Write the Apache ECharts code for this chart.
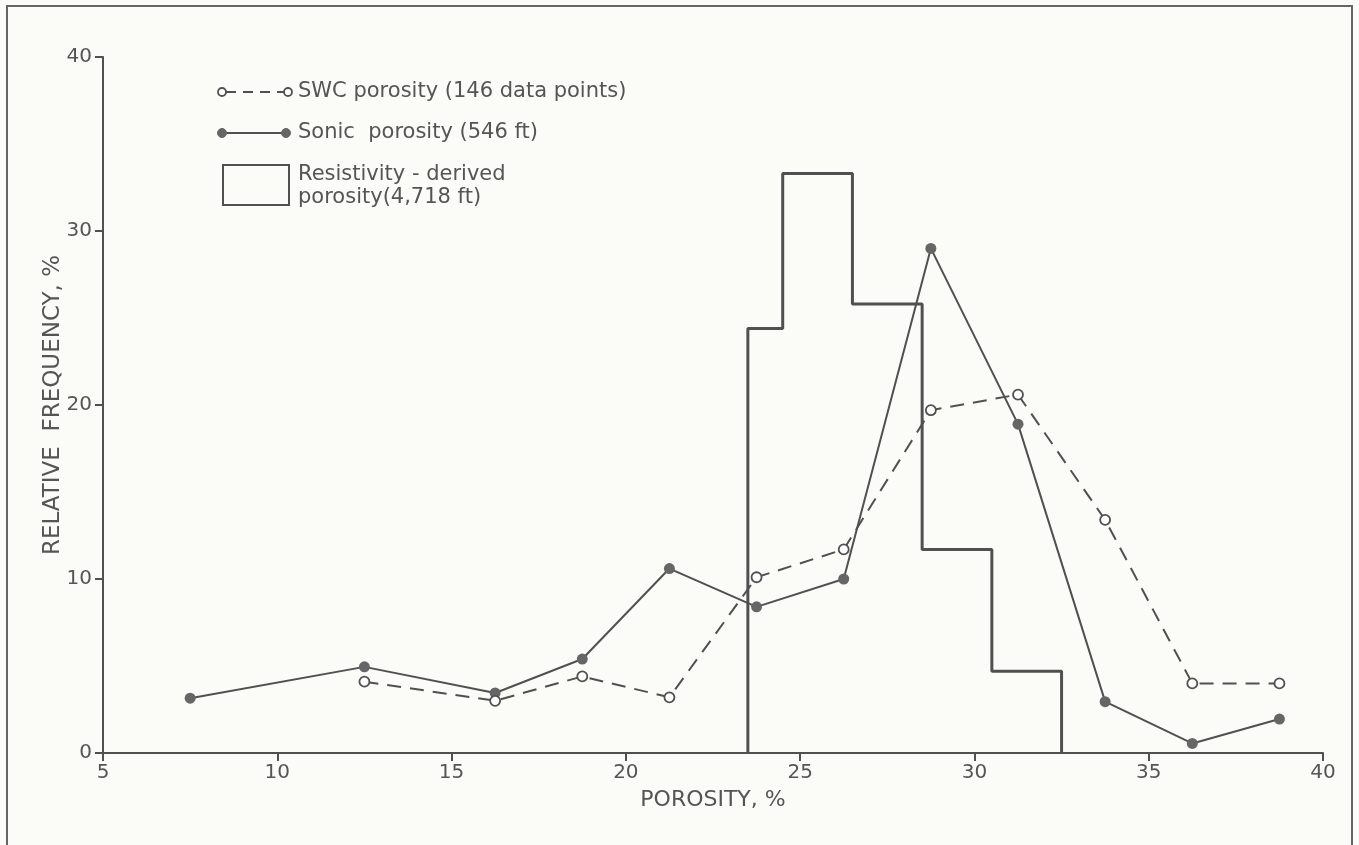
<!DOCTYPE html>
<html>
<head>
<meta charset="utf-8">
<script src="https://cdn.jsdelivr.net/npm/echarts@6/dist/echarts.min.js"></script>
<style>
  html, body { margin: 0; padding: 0; background: #fbfbf7; }
  #chart { width: 1359px; height: 845px; }
</style>
</head>
<body>
<div id="chart"></div>
<script>
// porosity bin centres (%)
const swcPorosity = [12.5, 16.25, 18.75, 21.25, 23.75, 26.25, 28.75, 31.25, 33.75, 36.25, 38.75]
const swcFreq = [4.1, 3.0, 4.4, 3.2, 10.1, 11.7, 19.7, 20.6, 13.4, 4.0, 4.0]

const sonicPorosity = [7.5, 12.5, 16.25, 18.75, 21.25, 23.75, 26.25, 28.75, 31.25, 33.75, 36.25, 38.75]
const sonicFreq = [3.15, 4.95, 3.45, 5.4, 10.6, 8.4, 10.0, 29.0, 18.9, 2.95, 0.55, 1.95]

// resistivity histogram: bin edges and frequency per bin
const resBinEdges = [23.5, 24.5, 26.5, 28.5, 30.5, 32.5]
const resFreq = [24.4, 33.3, 25.8, 11.7, 4.7]

const xTicks = [5, 10, 15, 20, 25, 30, 35, 40]
const yTicks = [0, 10, 20, 30, 40]

const ink = '#505050'
const textInk = '#555'
const font = 'DejaVu Sans'

// outline of histogram as a step line
const histOutline = [[resBinEdges[0], 0]]
resFreq.forEach((f, i) => {
  histOutline.push([resBinEdges[i], f])
  histOutline.push([resBinEdges[i + 1], f])
})
histOutline.push([resBinEdges[resBinEdges.length - 1], 0])

const chart = echarts.init(document.getElementById('chart'))

// legend drawn by hand (icons like the printed figure)
const legendX = 222
const legendFont = '21px "' + font + '"'
const legendGraphic = [
  { type: 'rect', shape: { x: 7, y: 6, width: 1345, height: 860 }, style: { fill: 'none', stroke: '#666', lineWidth: 2 } },
  // SWC
  { type: 'line', shape: { x1: legendX + 4, y1: 92, x2: legendX + 62, y2: 92 }, style: { stroke: ink, lineWidth: 2, lineDash: [10, 7] } },
  { type: 'circle', shape: { cx: legendX, cy: 92, r: 4 }, style: { fill: '#fff', stroke: ink, lineWidth: 1.8 } },
  { type: 'circle', shape: { cx: legendX + 66, cy: 92, r: 4 }, style: { fill: '#fff', stroke: ink, lineWidth: 1.8 } },
  { type: 'text', x: 298, y: 92, style: { text: 'SWC porosity (146 data points)', font: legendFont, fill: textInk, verticalAlign: 'middle' } },
  // sonic
  { type: 'line', shape: { x1: legendX, y1: 133, x2: legendX + 64, y2: 133 }, style: { stroke: ink, lineWidth: 2 } },
  { type: 'circle', shape: { cx: legendX, cy: 133, r: 4.5 }, style: { fill: '#666', stroke: '#666' } },
  { type: 'circle', shape: { cx: legendX + 64, cy: 133, r: 4.5 }, style: { fill: '#666', stroke: '#666' } },
  { type: 'text', x: 298, y: 133, style: { text: 'Sonic  porosity (546 ft)', font: legendFont, fill: textInk, verticalAlign: 'middle' } },
  // resistivity
  { type: 'rect', shape: { x: legendX + 1, y: 165, width: 66, height: 40 }, style: { fill: 'none', stroke: ink, lineWidth: 2 } },
  { type: 'text', x: 298, y: 175, style: { text: 'Resistivity - derived', font: legendFont, fill: textInk, verticalAlign: 'middle' } },
  { type: 'text', x: 298, y: 198, style: { text: 'porosity(4,718 ft)', font: legendFont, fill: textInk, verticalAlign: 'middle' } }
]

const option = {
  backgroundColor: '#fbfbf7',
  animation: false,
  grid: { left: 103, right: 36, top: 57, bottom: 92 },
  xAxis: {
    type: 'value',
    min: xTicks[0],
    max: xTicks[xTicks.length - 1],
    interval: 5,
    name: 'POROSITY, %',
    nameLocation: 'middle',
    nameGap: 36,
    nameTextStyle: { color: textInk, fontSize: 22, fontFamily: font },
    axisLine: { lineStyle: { color: ink, width: 2 } },
    axisTick: { length: 8, lineStyle: { color: ink, width: 2 } },
    axisLabel: { color: textInk, fontSize: 20, fontFamily: font, margin: 10 },
    splitLine: { show: false }
  },
  yAxis: {
    type: 'value',
    min: yTicks[0],
    max: yTicks[yTicks.length - 1],
    interval: 10,
    name: 'RELATIVE  FREQUENCY, %',
    nameLocation: 'middle',
    nameGap: 38,
    nameMoveOverlap: false,
    nameRotate: 90,
    nameTextStyle: { color: textInk, fontSize: 23, fontFamily: font },
    axisLine: { show: true, lineStyle: { color: ink, width: 2 } },
    axisTick: { show: true, length: 8, lineStyle: { color: ink, width: 2 } },
    axisLabel: { color: textInk, fontSize: 20, fontFamily: font, margin: 11 },
    splitLine: { show: false }
  },
  graphic: legendGraphic,
  series: [
    {
      name: 'Resistivity - derived porosity',
      type: 'line',
      data: histOutline,
      symbol: 'none',
      lineStyle: { color: ink, width: 3 },
      z: 2
    },
    {
      name: 'Sonic porosity',
      type: 'line',
      data: sonicPorosity.map((x, i) => [x, sonicFreq[i]]),
      symbol: 'circle',
      symbolSize: 11,
      lineStyle: { color: ink, width: 2 },
      itemStyle: { color: '#666' },
      z: 3
    },
    {
      name: 'SWC porosity',
      type: 'line',
      data: swcPorosity.map((x, i) => [x, swcFreq[i]]),
      symbol: 'circle',
      symbolSize: 10,
      lineStyle: { color: ink, width: 2, type: [14, 9] },
      itemStyle: { color: '#fff', borderColor: ink, borderWidth: 1.8 },
      z: 4
    }
  ]
}

chart.setOption(option)
</script>
</body>
</html>
